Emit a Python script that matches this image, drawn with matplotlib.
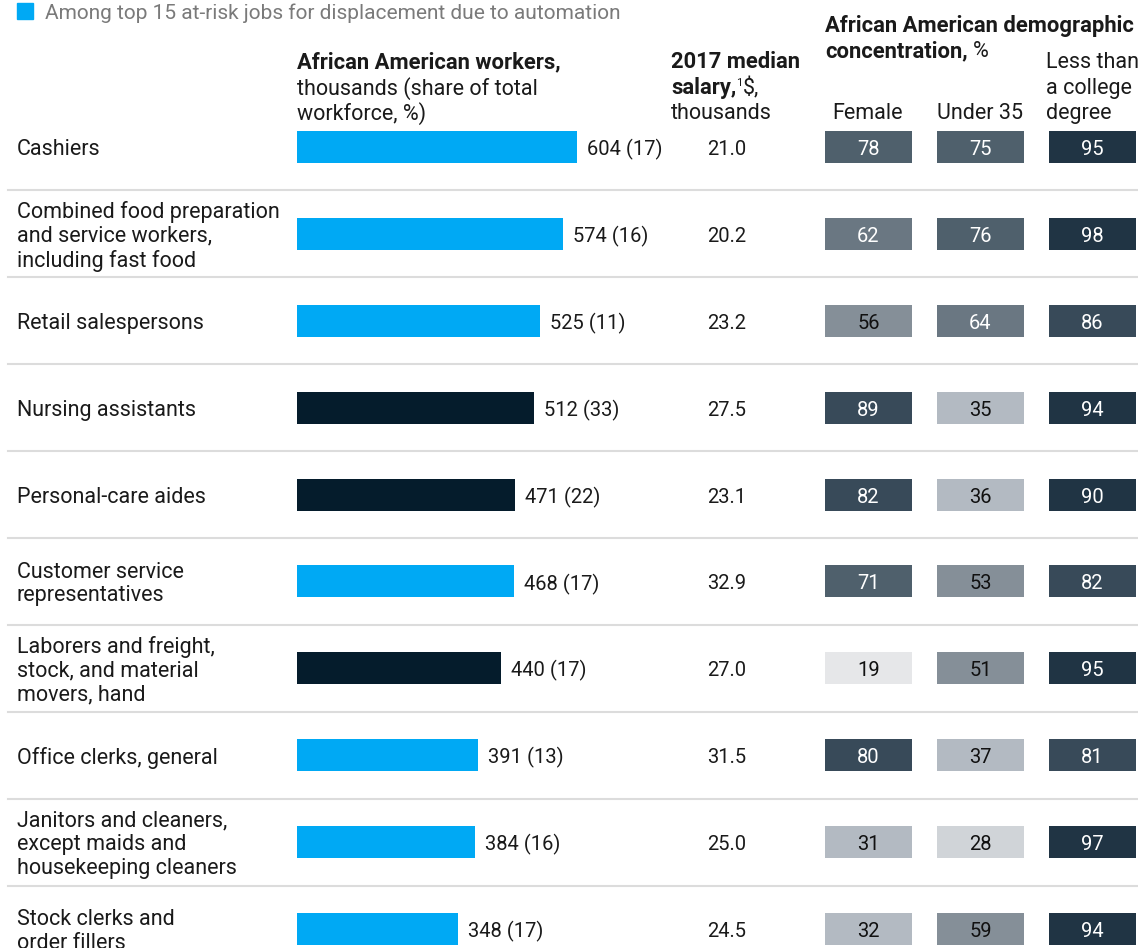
import matplotlib
matplotlib.use("Agg")
import matplotlib.pyplot as plt
import numpy as np

plt.rcParams['font.family'] = ['Roboto', 'DejaVu Sans']

jobs = ["Cashiers",
        "Combined food preparation\nand service workers,\nincluding fast food",
        "Retail salespersons",
        "Nursing assistants",
        "Personal-care aides",
        "Customer service\nrepresentatives",
        "Laborers and freight,\nstock, and material\nmovers, hand",
        "Office clerks, general",
        "Janitors and cleaners,\nexcept maids and\nhousekeeping cleaners",
        "Stock clerks and\norder fillers"]
workers = [604, 574, 525, 512, 471, 468, 440, 391, 384, 348]
share = [17, 16, 11, 33, 22, 17, 17, 13, 16, 17]
at_risk = [1, 1, 1, 0, 0, 1, 0, 1, 1, 1]
salary = [21.0, 20.2, 23.2, 27.5, 23.1, 32.9, 27.0, 31.5, 25.0, 24.5]
female = [78, 62, 56, 89, 82, 71, 19, 80, 31, 32]
under35 = [75, 76, 64, 35, 36, 53, 51, 37, 28, 59]
no_degree = [95, 98, 86, 94, 90, 82, 95, 81, 97, 94]

W, H = 1138, 948
BLUE = '#00a9f4'
NAVY = '#051c2c'
TXT = '#1a1a1a'

def cell_color(v):
    if v >= 90: return '#203444'
    if v >= 80: return '#384a59'
    if v >= 70: return '#4f606c'
    if v >= 60: return '#6a7782'
    if v >= 50: return '#858f98'
    if v >= 30: return '#b3bac2'
    if v >= 20: return '#d0d4d8'
    return '#e6e7e9'

# row geometry: first row centred at 147 px, step ~86.9 px
row0, step = 147, 86.9
ytop = -row0 / step
ybot = (H - row0) / step
rows = np.arange(len(jobs))
dy = 2.5 / step  # small nudge so text sits like the original

def py(p):
    return (p - row0) / step + dy

fig = plt.figure(figsize=(W / 100, H / 100), dpi=100)

# layout axes in pixel-x, row-y
ax = fig.add_axes([0, 0, 1, 1])
ax.set_xlim(0, W)
ax.set_ylim(ybot, ytop)
ax.axis('off')

# bar axes in thousands
bar_left = 297
px_per_k = 0.4636
bx = fig.add_axes([bar_left / W, 0, (W - bar_left) / W, 1])
bx.set_xlim(0, (W - bar_left) / px_per_k)
bx.set_ylim(ybot, ytop)
bx.axis('off')
bx.patch.set_alpha(0)

fs = 15.5
fsn = 14.5

bar_h = 32 / step
bx.barh(rows, workers, height=bar_h,
        color=[BLUE if r else NAVY for r in at_risk])
for i, (w, s) in enumerate(zip(workers, share)):
    bx.annotate(f"{w} ({s})", (w, i + dy), xytext=(7, 0), textcoords='offset points',
                ha='left', va='center', fontsize=fsn, color=TXT)

# separators
for i in rows[:-1]:
    ax.plot([8, W], [i + 0.5, i + 0.5], color='#dcdcdc', lw=1.5)

for i, job in enumerate(jobs):
    ax.text(17, i + dy, job, ha='left', va='center', fontsize=fs, color=TXT,
            linespacing=1.18)
    ax.text(727, i + dy, f"{salary[i]:.1f}", ha='center', va='center', fontsize=fsn, color=TXT)

# heatmap cells
cell_w = 87
cell_h = 32 / step
cols = [(825, female), (937, under35), (1049, no_degree)]
for x0, vals in cols:
    ax.barh(rows, cell_w, left=x0, height=cell_h,
            color=[cell_color(v) for v in vals])
    for i, v in enumerate(vals):
        ax.text(x0 + cell_w / 2, i + dy, str(v), ha='center', va='center', fontsize=fsn,
                color='white' if v >= 60 else '#111111')

# legend
ax.add_patch(plt.Rectangle((17, (3 - row0) / step), 16, 16 / step, color=BLUE))
ax.text(45, py(11), "Among top 15 at-risk jobs for displacement due to automation",
        ha='left', va='center', fontsize=15, color='#7a7a7a')

# headers
fh = 15.8
ax.text(297, py(60), "African American workers,", ha='left', va='center',
        fontsize=fh, fontweight='bold', color=TXT)
ax.text(297, py(86), "thousands (share of total", ha='left', va='center', fontsize=fs, color=TXT)
ax.text(297, py(111), "workforce, %)", ha='left', va='center', fontsize=fs, color=TXT)

ax.text(671, py(60), "2017 median", ha='left', va='center', fontsize=fh,
        fontweight='bold', color=TXT)
t = ax.text(671, py(86), "salary,", ha='left', va='center', fontsize=fh,
            fontweight='bold', color=TXT)
ax.annotate("1", xycoords=t, xy=(1, 0.75), xytext=(0, 0), textcoords='offset points',
            ha='left', va='center', fontsize=8, color=TXT)
ax.annotate("$,", xycoords=t, xy=(1, 0.5), xytext=(5, 0), textcoords='offset points',
            ha='left', va='center', fontsize=fs, color=TXT)
ax.text(671, py(111), "thousands", ha='left', va='center', fontsize=fs, color=TXT)

ax.text(825, py(24), "African American demographic", ha='left', va='center',
        fontsize=fh, fontweight='bold', color=TXT)
t = ax.text(825, py(49), "concentration,", ha='left', va='center', fontsize=fh,
            fontweight='bold', color=TXT)
ax.annotate("%", xycoords=t, xy=(1, 0.5), xytext=(4, 0), textcoords='offset points',
            ha='left', va='center', fontsize=fs, color=TXT)

ax.text(868, py(111), "Female", ha='center', va='center', fontsize=fs, color=TXT)
ax.text(980, py(111), "Under 35", ha='center', va='center', fontsize=fs, color=TXT)
ax.text(1046, py(60), "Less than", ha='left', va='center', fontsize=fs, color=TXT)
ax.text(1046, py(86), "a college", ha='left', va='center', fontsize=fs, color=TXT)
ax.text(1046, py(111), "degree", ha='left', va='center', fontsize=fs, color=TXT)

fig.savefig('out.png', dpi=100)
